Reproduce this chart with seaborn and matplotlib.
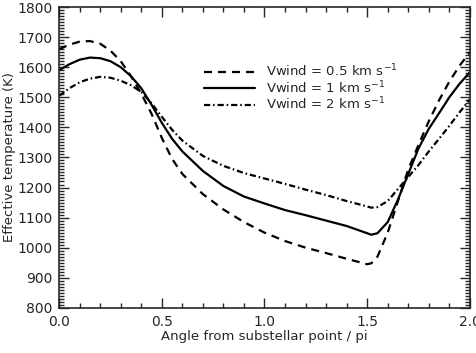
import seaborn as sns
import matplotlib.pyplot as plt
import matplotlib.ticker as mticker
import pandas as pd

# angle from substellar point (units of pi)
angle = [0.0, 0.05, 0.1, 0.15, 0.2, 0.25, 0.3, 0.35, 0.4, 0.45, 0.5, 0.55, 0.6,
         0.7, 0.8, 0.9, 1.0, 1.1, 1.2, 1.3, 1.4, 1.5, 1.52, 1.55, 1.6, 1.65,
         1.7, 1.75, 1.8, 1.85, 1.9, 1.95, 2.0]

teff_05 = [1660, 1675, 1685, 1687, 1678, 1655, 1620, 1570, 1512, 1445, 1365, 1295, 1245,
           1178, 1127, 1085, 1050, 1022, 1000, 982, 963, 945, 948, 970, 1050, 1155,
           1260, 1342, 1420, 1490, 1552, 1605, 1650]
teff_1 = [1590, 1610, 1625, 1632, 1630, 1620, 1600, 1570, 1530, 1475, 1415, 1362, 1320,
          1255, 1205, 1170, 1147, 1125, 1108, 1090, 1072, 1048, 1043, 1048, 1085, 1160,
          1245, 1330, 1395, 1447, 1500, 1545, 1583]
teff_2 = [1505, 1530, 1550, 1562, 1568, 1565, 1555, 1540, 1518, 1480, 1435, 1392, 1356,
          1305, 1272, 1248, 1230, 1212, 1193, 1175, 1155, 1137, 1133, 1135, 1155, 1195,
          1235, 1275, 1320, 1362, 1405, 1450, 1493]

labels = [r'Vwind = 0.5 km s$^{-1}$', r'Vwind = 1 km s$^{-1}$', r'Vwind = 2 km s$^{-1}$']

sns.set_style("ticks")
plt.rcParams['font.family'] = ['DejaVu Sans']
plt.rcParams['mathtext.default'] = 'regular'

fig = plt.figure(figsize=(4.77, 3.53), dpi=100)
ax = fig.add_axes([0.124, 0.128, 0.861, 0.852])

styles = [(0, (3.6, 2.7)), '-', (0, (2.8, 1.3, 0.7, 1.3))]
for vals, lab, ls in zip([teff_05, teff_1, teff_2], labels, styles):
    df = pd.DataFrame({'angle': angle, 'teff': vals})
    sns.lineplot(data=df, x='angle', y='teff', color='black', linewidth=1.6,
                 linestyle=ls, label=lab, ax=ax)

ax.set_xlim(0, 2.0)
ax.set_ylim(800, 1800)
ax.xaxis.set_major_locator(mticker.MultipleLocator(0.5))
ax.xaxis.set_minor_locator(mticker.MultipleLocator(0.1))
ax.yaxis.set_major_locator(mticker.MultipleLocator(100))
ax.yaxis.set_minor_locator(mticker.MultipleLocator(10))
ax.xaxis.set_major_formatter(mticker.FormatStrFormatter('%.1f'))
ax.tick_params(which='both', direction='in', top=True, right=True, labelsize=10, width=1)
ax.tick_params(which='major', length=7, pad=5)
ax.tick_params(which='minor', length=3.5)
for s in ax.spines.values():
    s.set_linewidth(1.2)

ax.set_xlabel('Angle from substellar point / pi', fontsize=9.5, labelpad=1)
ax.set_ylabel('Effective temperature (K)', fontsize=9.5, labelpad=1)

ax.legend(loc='upper left', bbox_to_anchor=(0.352, 0.815), frameon=False,
          fontsize=9.5, handlelength=3.9, handletextpad=0.8, labelspacing=0.0,
          borderpad=0, borderaxespad=0)

fig.savefig('out.png', dpi=100)
